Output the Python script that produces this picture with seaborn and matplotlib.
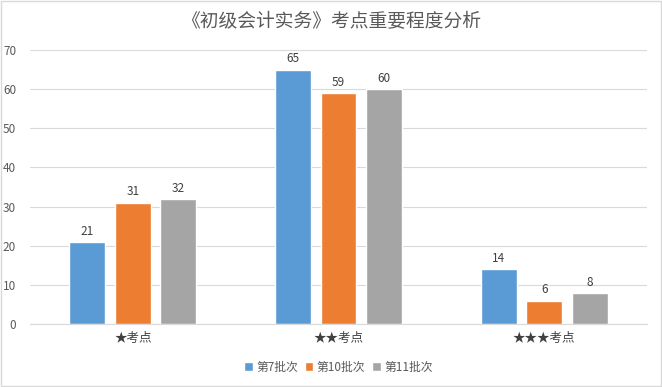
import matplotlib
matplotlib.use("Agg")
import matplotlib.pyplot as plt
import seaborn as sns
import pandas as pd
from matplotlib.patches import Rectangle

categories = ["★考点", "★★考点", "★★★考点"]
series = ["第7批次", "第10批次", "第11批次"]
batch7 = [21, 65, 14]
batch10 = [31, 59, 6]
batch11 = [32, 60, 8]
colors = ["#5B9BD5", "#ED7D31", "#A5A5A5"]
title = "《初级会计实务》考点重要程度分析"

sns.set_theme(style="white")
plt.rcParams["font.family"] = ["Noto Sans CJK SC", "DejaVu Sans"]

rows = []
for s, vals in zip(series, [batch7, batch10, batch11]):
    for c, v in zip(categories, vals):
        rows.append({"cat": c, "series": s, "value": v})
df = pd.DataFrame(rows)

fig = plt.figure(figsize=(6.62, 3.87), dpi=100)
ax = fig.add_axes([30/662, 63/387, 617/662, 274/387])

sns.barplot(data=df, x="cat", y="value", hue="series", order=categories,
            hue_order=series, palette=colors, width=0.664, gap=0.21,
            saturation=1, ax=ax, legend=True)

for cont in ax.containers:
    ax.bar_label(cont, padding=3, fontsize=8.5, color="#404040")

ax.set_ylim(0, 70)
ax.set_yticks(range(0, 71, 10))
ax.set_xlim(-0.5, 2.5)
ax.yaxis.grid(True, color="#D9D9D9", linewidth=0.8)
ax.set_axisbelow(True)
for sp in ["left", "right", "top"]:
    ax.spines[sp].set_visible(False)
ax.spines["bottom"].set_color("#D9D9D9")
ax.spines["bottom"].set_linewidth(0.8)
ax.set_xlabel("")
ax.set_ylabel("")
ax.tick_params(axis="y", length=0, labelsize=8.5, labelcolor="#595959", pad=10)
ax.tick_params(axis="x", which="major", length=0, labelsize=9, labelcolor="#404040", pad=6)
ax.set_xticks([-0.5, 0.5, 1.5, 2.5], minor=True)
ax.tick_params(axis="x", which="minor", length=4, color="#D9D9D9", width=0.8)

leg = ax.legend(loc="lower center", bbox_to_anchor=(0.5, -0.22), ncol=3,
                frameon=False, fontsize=8.5, handlelength=0.7, handleheight=0.7,
                handletextpad=0.3, columnspacing=0.6)
for t in leg.get_texts():
    t.set_color("#595959")

fig.text(0.5, 0.945, title, ha="center", va="center", fontsize=13.5,
         color="#595959", fontweight="medium")

fig.patches.append(Rectangle((0.001, 0.002), 0.997, 0.995, transform=fig.transFigure,
                             fill=False, edgecolor="#D9D9D9", linewidth=1))

fig.savefig("out.png", dpi=100)
